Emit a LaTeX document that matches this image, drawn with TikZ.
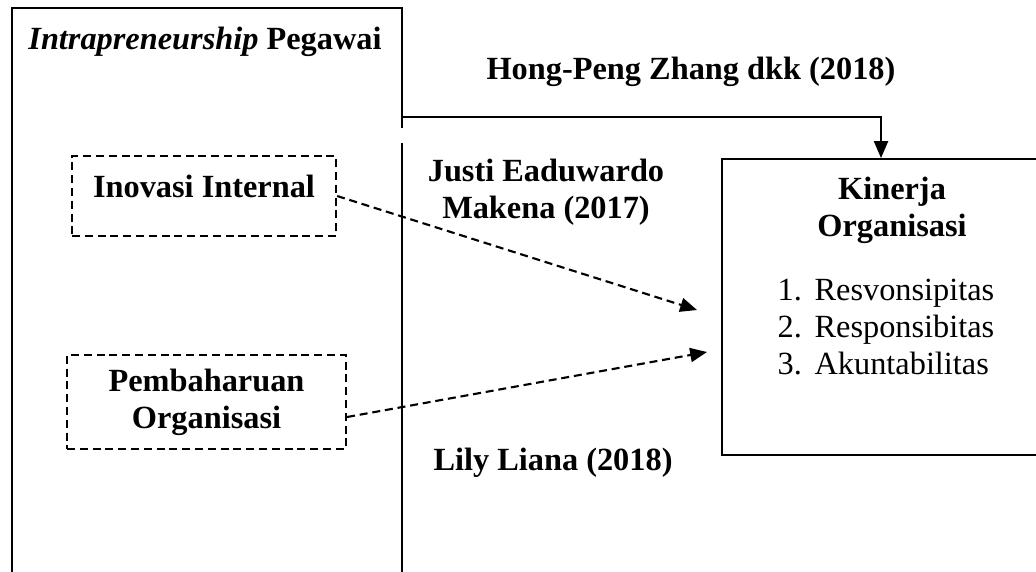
\documentclass[tikz,border=0pt]{standalone}
\usepackage{fontspec}
\setmainfont{Liberation Serif}
\usetikzlibrary{arrows.meta}
\newcommand{\ukuran}{\fontsize{23}{26.5}\selectfont}
\tikzset{
  tebal/.style={font=\ukuran\bfseries},
  kotakputus/.style={draw, line width=1.5pt, dash pattern=on 0.2cm off 0.12cm, tebal, align=center, inner sep=0pt},
  panahputus/.style={line width=1.5pt, dash pattern=on 0.2cm off 0.12cm, -{Triangle[length=0.42cm,width=0.35cm]}},
  panah/.style={-{Triangle[length=0.42cm,width=0.35cm]}}
}
\begin{document}
\begin{tikzpicture}[x=0.025cm, y=-0.025cm, line width=1.3pt, font=\ukuran]
\useasboundingbox (0,0) rectangle (1036,571);
\draw (12,580) -- (12,8) -- (402,8) -- (402,128);
\draw (402,143) -- (402,580);
\node[tebal] (judul) at (205,42) {\textit{Intrapreneurship} Pegawai};

\node[kotakputus, minimum width=6.6cm, minimum height=2cm, text depth=0.5cm] (inovasi) at (204,196) {Inovasi Internal};
\node[kotakputus, minimum width=6.975cm, minimum height=2.35cm] (pembaharuan) at (206.5,402) {Pembaharuan\\Organisasi};

\node[draw, minimum width=7.95cm, minimum height=7.4cm, inner sep=0pt] (kinerja) at (881,307) {};
\node[tebal, align=center] (judulkinerja) at (892,210) {Kinerja\\Organisasi};
\node[anchor=west, align=left] (daftar) at (772,327) {\makebox[0.925cm][l]{1.}Resvonsipitas\\\makebox[0.925cm][l]{2.}Responsibitas\\\makebox[0.925cm][l]{3.}Akuntabilitas};

\node[tebal] (zhang) at (691,72) {Hong-Peng Zhang dkk (2018)};
\node[tebal, align=center] (justi) at (546,192) {Justi Eaduwardo\\Makena (2017)};
\node[tebal] (lily) at (553,463) {Lily Liana (2018)};

\coordinate (pangkal) at (402,117);
\coordinate (ujung1) at (697,310);
\coordinate (ujung2) at (707,352);
\draw[panah] (pangkal) -| (kinerja.north);
\draw[panahputus] (inovasi.east) -- (ujung1);
\draw[panahputus] ([yshift=-0.375cm]pembaharuan.east) -- (ujung2);
\end{tikzpicture}
\end{document}
